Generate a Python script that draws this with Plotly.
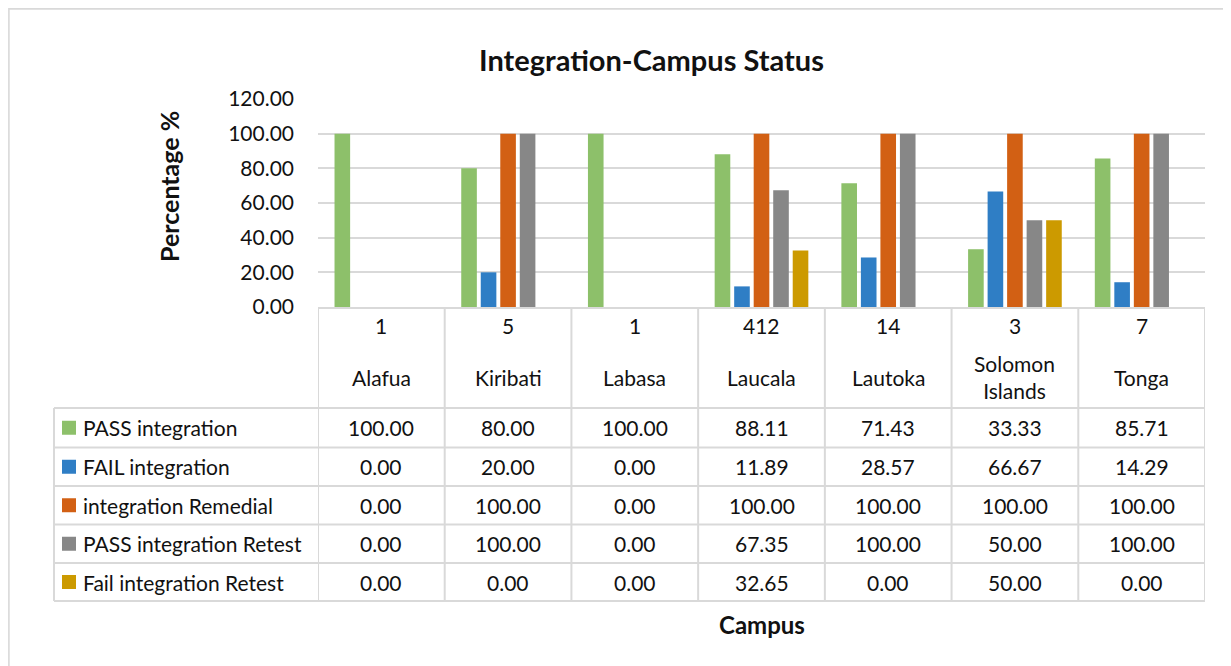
import plotly.graph_objects as go

# ---------------- data ----------------
campuses = ["Alafua", "Kiribati", "Labasa", "Laucala", "Lautoka", "Solomon Islands", "Tonga"]
campus_labels = ["Alafua", "Kiribati", "Labasa", "Laucala", "Lautoka", "Solomon<br>Islands", "Tonga"]
counts = [1, 5, 1, 412, 14, 3, 7]

series_names = ["PASS integration", "FAIL integration", "integration Remedial",
                "PASS integration Retest", "Fail integration Retest"]
pass_integration = [100.00, 80.00, 100.00, 88.11, 71.43, 33.33, 85.71]
fail_integration = [0.00, 20.00, 0.00, 11.89, 28.57, 66.67, 14.29]
integration_remedial = [0.00, 100.00, 0.00, 100.00, 100.00, 100.00, 100.00]
pass_integration_retest = [0.00, 100.00, 0.00, 67.35, 100.00, 50.00, 100.00]
fail_integration_retest = [0.00, 0.00, 0.00, 32.65, 0.00, 50.00, 0.00]
series_values = [pass_integration, fail_integration, integration_remedial,
                 pass_integration_retest, fail_integration_retest]

y_ticks = [0, 20, 40, 60, 80, 100, 120]

# ---------------- styling ----------------
colors = ["#8DC06A", "#2F7EC5", "#D26014", "#878787", "#CC9A00"]
FONT = "Lato"
TXT = "#111111"
GRID = "#D9D9D9"
FS = 21

OFF = 8  # page body margin
W, H = 1231 - OFF, 666 - OFF
L, R, T, B = 318, 1205, 99, 307   # reference pixel positions of plot area


def px(p):
    return (p - L) / (R - L)


def py(p):
    return (B - p) / (B - T)


fig = go.Figure()
for name, vals, c in zip(series_names, series_values, colors):
    fig.add_trace(go.Bar(x=campuses, y=vals, name=name,
                         marker=dict(color=c, line=dict(width=0)),
                         showlegend=False, hoverinfo="skip"))

shapes = []
annotations = []

# outer chart border
shapes.append(dict(type="rect", xref="paper", yref="paper",
                   x0=px(8.9), x1=px(1260), y0=py(8.9), y1=py(700),
                   line=dict(color=GRID, width=1.6), layer="below"))

# table vertical lines at category boundaries
for i in range(len(campuses) + 1):
    shapes.append(dict(type="line", xref="x", yref="paper",
                       x0=i - 0.5, x1=i - 0.5, y0=0, y1=py(601),
                       line=dict(color=GRID, width=2)))
# left edge of label column
shapes.append(dict(type="line", xref="paper", yref="paper",
                   x0=px(54), x1=px(54), y0=py(408), y1=py(601),
                   line=dict(color=GRID, width=2)))
# horizontal row lines
row_edges = [408, 447.5, 486, 524.5, 563, 601]
for e in row_edges:
    shapes.append(dict(type="line", xref="paper", yref="paper",
                       x0=px(54), x1=1, y0=py(e), y1=py(e),
                       line=dict(color=GRID, width=2)))

row_centers = [(row_edges[k] + row_edges[k + 1]) / 2 for k in range(5)]

txt_font = dict(family=FONT, size=FS, color=TXT)

# header row: counts and campus names
for c, n, lab in zip(campuses, counts, campus_labels):
    annotations.append(dict(x=c, xref="x", y=py(325), yref="paper", text=str(n),
                            xanchor="center", yanchor="middle",
                            showarrow=False, font=txt_font))
    annotations.append(dict(x=c, xref="x", y=py(377), yref="paper", text=lab,
                            xanchor="center", yanchor="middle",
                            showarrow=False, font=txt_font))

# data rows
for k, (name, vals, col) in enumerate(zip(series_names, series_values, colors)):
    yc = row_centers[k]
    shapes.append(dict(type="rect", xref="paper", yref="paper",
                       x0=px(62), x1=px(76), y0=py(yc + 7), y1=py(yc - 7),
                       fillcolor=col, line=dict(width=0)))
    annotations.append(dict(x=px(81), xref="paper", y=py(yc), yref="paper", text=name,
                            xanchor="left", yanchor="middle", showarrow=False,
                            font=txt_font))
    for c, v in zip(campuses, vals):
        annotations.append(dict(x=c, xref="x", y=py(yc), yref="paper", text=f"{v:.2f}",
                                xanchor="center", yanchor="middle",
                                showarrow=False, font=txt_font))

# titles
annotations.append(dict(x=px(651), xref="paper", y=py(59), yref="paper",
                        text="<b>Integration-Campus Status</b>", showarrow=False,
                        xanchor="center", yanchor="middle",
                        font=dict(family=FONT, size=29, color=TXT)))
annotations.append(dict(x=px(169), xref="paper", y=py(187), yref="paper",
                        text="<b>Percentage %</b>", textangle=-90, showarrow=False,
                        xanchor="center", yanchor="middle",
                        font=dict(family=FONT, size=25, color=TXT)))
annotations.append(dict(x=px(761.5), xref="paper", y=py(624), yref="paper",
                        text="<b>Campus</b>", showarrow=False,
                        xanchor="center", yanchor="middle",
                        font=dict(family=FONT, size=24, color=TXT)))

fig.update_layout(
    width=W, height=H,
    margin=dict(l=L - OFF, r=1231 - R, t=T - OFF, b=666 - B, pad=0),
    paper_bgcolor="white", plot_bgcolor="white",
    barmode="group", bargap=0.23, bargroupgap=0.2,
    xaxis=dict(type="category", range=[-0.5, len(campuses) - 0.5],
               showticklabels=False, ticks="", showgrid=False, zeroline=False,
               showline=True, linecolor=GRID, linewidth=2),
    yaxis=dict(range=[0, 120], tickvals=y_ticks, tickformat=".2f",
               showgrid=True, gridcolor=GRID, gridwidth=1.5, zeroline=False,
               showline=False, ticks="", ticklabelstandoff=23,
               tickfont=txt_font),
    shapes=shapes, annotations=annotations,
    showlegend=False,
)

fig.write_html("out.html")
